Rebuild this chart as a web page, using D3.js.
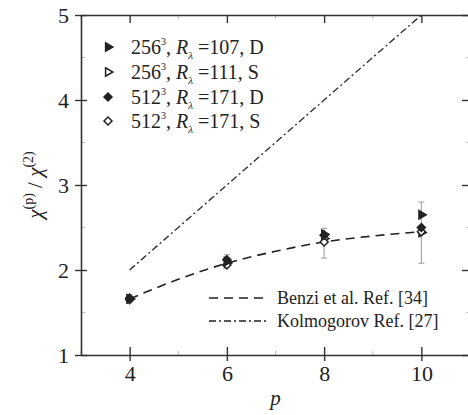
<!DOCTYPE html>
<html>
<head>
<meta charset="utf-8">
<script src="https://cdn.jsdelivr.net/npm/d3@7"></script>
<style>
  body { margin: 0; background: #fff; }
  svg text { font-family: 'Liberation Serif', 'DejaVu Serif', serif; fill: #222; }
</style>
</head>
<body>
<script>
// data
const orders = [4, 6, 8, 10];
const s256D = [1.66, 2.10, 2.42, 2.65];
const s256S = [1.66, 2.08, 2.37, 2.44];
const s512D = [1.67, 2.12, 2.41, 2.50];
const s512S = [1.65, 2.06, 2.33, 2.45];
const errLow  = [1.62, 2.04, 2.14, 2.08];
const errHigh = [1.71, 2.18, 2.49, 2.80];
const benziP = [4, 5, 6, 7, 8, 9, 10];
const benziV = [1.66, 1.89, 2.08, 2.22, 2.33, 2.40, 2.45];
const kolmoP = [4, 10];
const kolmoV = [2, 5];
const xTicks = [4, 6, 8, 10];
const yTicks = [1, 2, 3, 4, 5];

const width = 468, height = 415;
const margin = {top: 15, right: -2, bottom: 60, left: 81};

const svg = d3.select("body").append("svg")
    .attr("width", width).attr("height", height);

const x = d3.scaleLinear().domain([3, 11]).range([margin.left, width - margin.right]);
const y = d3.scaleLinear().domain([1, 5]).range([height - margin.bottom, margin.top]);

const frame = svg.append("g");
const axisCol = "#333";

// minor ticks
const xMinor = d3.range(3, 11.01, 1).filter(d => xTicks.indexOf(d) < 0);
const yMinor = d3.range(1.5, 5, 1);
frame.selectAll(".xminor").data(xMinor).join("g").each(function(d) {
  const g = d3.select(this);
  g.append("line").attr("x1", x(d)).attr("x2", x(d)).attr("y1", y(1)).attr("y2", y(1) - 4);
  g.append("line").attr("x1", x(d)).attr("x2", x(d)).attr("y1", y(5)).attr("y2", y(5) + 4);
}).attr("stroke", "#bbb").attr("stroke-width", 1);
frame.selectAll(".yminor").data(yMinor).join("g").each(function(d) {
  const g = d3.select(this);
  g.append("line").attr("x1", x(3)).attr("x2", x(3) + 4).attr("y1", y(d)).attr("y2", y(d));
  g.append("line").attr("x1", x(11)).attr("x2", x(11) - 4).attr("y1", y(d)).attr("y2", y(d));
}).attr("stroke", "#bbb").attr("stroke-width", 1);

// major axes
const fmt = d3.format("d");
const bottomAxis = svg.append("g")
    .attr("transform", `translate(0,${y(1)})`)
    .call(d3.axisBottom(x).tickValues(xTicks).tickFormat(fmt).tickSize(-8).tickPadding(10).tickSizeOuter(0));
const topAxis = svg.append("g")
    .attr("transform", `translate(0,${y(5)})`)
    .call(d3.axisTop(x).tickValues(xTicks).tickSize(-8).tickFormat("").tickSizeOuter(0));
const leftAxis = svg.append("g")
    .attr("transform", `translate(${x(3)},0)`)
    .call(d3.axisLeft(y).tickValues(yTicks).tickFormat(fmt).tickSize(8).tickPadding(4).tickSizeOuter(0));
const rightAxis = svg.append("g")
    .attr("transform", `translate(${x(11)},0)`)
    .call(d3.axisRight(y).tickValues(yTicks).tickSize(-8).tickFormat("").tickSizeOuter(0));

// left/bottom ticks straddle the spine in the figure
leftAxis.selectAll(".tick line").attr("x1", 6).attr("x2", -6);
bottomAxis.selectAll(".tick line").attr("y1", 6).attr("y2", -8);

[bottomAxis, topAxis, leftAxis, rightAxis].forEach(a => {
  a.attr("font-family", null).attr("font-size", 22);
  a.selectAll(".domain").attr("stroke", axisCol).attr("stroke-width", 1.6);
  a.selectAll(".tick line").attr("stroke", axisCol).attr("stroke-width", 1.4);
  a.selectAll("text").attr("fill", "#222");
});
bottomAxis.selectAll("text").attr("dy", "0.71em");

// axis titles
svg.append("text")
    .attr("x", x(7)).attr("y", 405)
    .attr("text-anchor", "middle")
    .attr("font-size", 21).attr("font-style", "italic")
    .text("p");

const yl = svg.append("text")
    .attr("transform", `translate(42,${y(3)}) rotate(-90)`)
    .attr("text-anchor", "middle")
    .attr("font-size", 21);
yl.append("tspan").attr("font-style", "italic").text("χ");
yl.append("tspan").attr("dy", -9).attr("font-size", 14).text("(p)");
yl.append("tspan").attr("dy", 9).text(" / ");
yl.append("tspan").attr("font-style", "italic").text("χ");
yl.append("tspan").attr("dy", -9).attr("font-size", 14).text("(2)");

// lines
const line = d3.line().x(d => x(d[0])).y(d => y(d[1]));
svg.append("path")
    .datum(d3.zip(kolmoP, kolmoV))
    .attr("d", line)
    .attr("fill", "none").attr("stroke", "#333").attr("stroke-width", 1.4)
    .attr("stroke-dasharray", "7,3,2,3");
svg.append("path")
    .datum(d3.zip(benziP, benziV))
    .attr("d", line.curve(d3.curveMonotoneX))
    .attr("fill", "none").attr("stroke", "#222").attr("stroke-width", 1.6)
    .attr("stroke-dasharray", "9,6");

// error bars
const eb = svg.append("g").attr("stroke", "#aaa").attr("stroke-width", 1.2);
orders.forEach((p, i) => {
  eb.append("line").attr("x1", x(p)).attr("x2", x(p)).attr("y1", y(errLow[i])).attr("y2", y(errHigh[i]));
  eb.append("line").attr("x1", x(p) - 3).attr("x2", x(p) + 3).attr("y1", y(errLow[i])).attr("y2", y(errLow[i]));
  eb.append("line").attr("x1", x(p) - 3).attr("x2", x(p) + 3).attr("y1", y(errHigh[i])).attr("y2", y(errHigh[i]));
});

// markers
const tri = d3.symbol().type(d3.symbolTriangle).size(30);
const dia = d3.symbol().type(d3.symbolSquare).size(32);
function drawMarkers(vals, sym, rot, filled) {
  svg.append("g").selectAll("path").data(orders.map((p, i) => [p, vals[i]])).join("path")
    .attr("transform", d => `translate(${x(d[0])},${y(d[1])}) rotate(${rot})`)
    .attr("d", sym)
    .attr("fill", filled ? "#222" : "#fff")
    .attr("stroke", "#222").attr("stroke-width", 1.5);
}
drawMarkers(s256S, tri, 90, false);
drawMarkers(s512S, dia, 45, false);
drawMarkers(s512D, dia, 45, true);
drawMarkers(s256D, tri, 90, true);

// top-left legend
const legItems = [
  {n: "256", r: "107", t: "D", sym: tri, rot: 90, f: true},
  {n: "256", r: "111", t: "S", sym: tri, rot: 90, f: false},
  {n: "512", r: "171", t: "D", sym: dia, rot: 45, f: true},
  {n: "512", r: "171", t: "S", sym: dia, rot: 45, f: false}
];
const legY = [47, 72, 97, 121];
legItems.forEach((d, i) => {
  svg.append("path")
    .attr("transform", `translate(108,${legY[i]}) rotate(${d.rot})`)
    .attr("d", d.sym)
    .attr("fill", d.f ? "#222" : "#fff")
    .attr("stroke", "#222").attr("stroke-width", 1.5);
  const t = svg.append("text").attr("x", 131).attr("y", legY[i] + 7).attr("font-size", 20);
  t.append("tspan").text(d.n);
  t.append("tspan").attr("dy", -9).attr("font-size", 10).text("3");
  t.append("tspan").attr("dy", 9).text(", ");
  t.append("tspan").attr("font-style", "italic").text("R");
  t.append("tspan").attr("dy", 5).attr("font-size", 11).attr("font-style", "italic").text("λ");
  t.append("tspan").attr("dy", -5).text(` =${d.r}, ${d.t}`);
});

// bottom-right legend
const leg2 = [
  {label: "Benzi et al. Ref. [34]", dash: "9,6", y: 298},
  {label: "Kolmogorov Ref. [27]", dash: "7,3,2,3", y: 321}
];
leg2.forEach(d => {
  svg.append("line").attr("x1", 209).attr("x2", 268).attr("y1", d.y).attr("y2", d.y)
    .attr("stroke", "#222").attr("stroke-width", 1.5).attr("stroke-dasharray", d.dash);
  svg.append("text").attr("x", 277).attr("y", d.y + 6).attr("font-size", 18).text(d.label);
});
</script>
</body>
</html>
